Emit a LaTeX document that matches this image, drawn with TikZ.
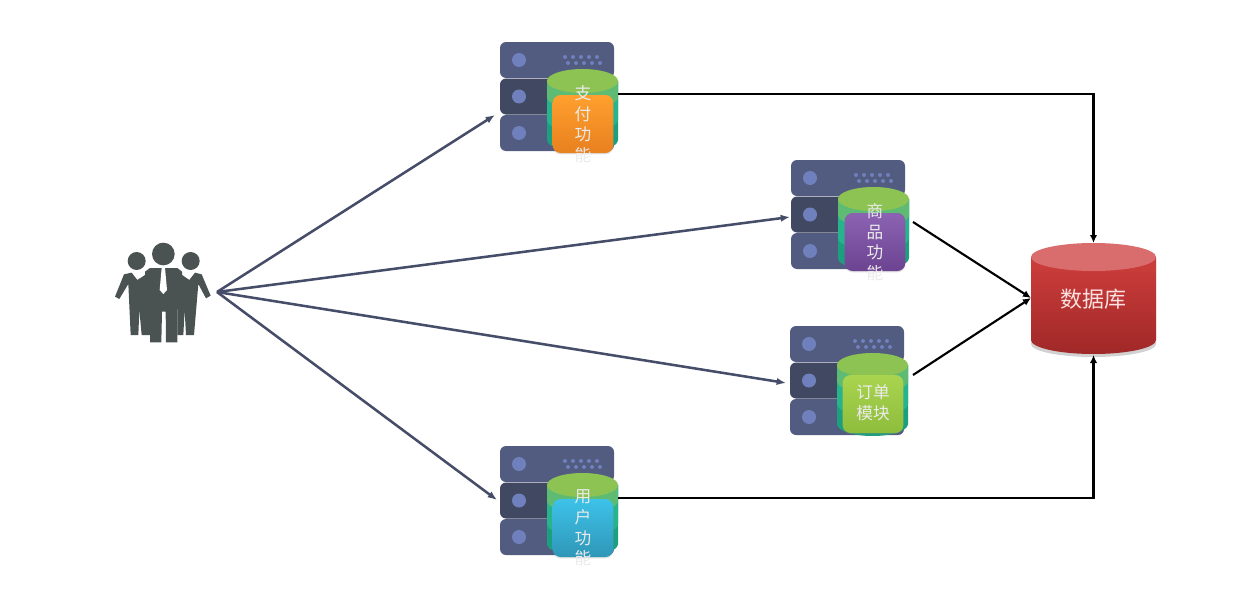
\documentclass[tikz,border=0pt]{standalone}
\usepackage{fontspec}
\newfontfamily\cjk{Noto Sans CJK SC}
\usepackage{xcolor}
\usepackage{tikz}
\usetikzlibrary{positioning,arrows.meta,shapes,calc,shadows}

\definecolor{slabc}{HTML}{525C80}
\definecolor{slabmid}{HTML}{414862}
\definecolor{ledc}{HTML}{6F80BD}
\definecolor{cyltop}{HTML}{8DC353}
\definecolor{bandA}{HTML}{5DBB74}
\definecolor{bandB}{HTML}{27B38B}
\definecolor{bandC}{HTML}{1C9F7E}
\definecolor{peoplec}{HTML}{4A5252}
\definecolor{userarr}{HTML}{454D68}
\definecolor{orangeT}{HTML}{FFA02E}
\definecolor{orangeB}{HTML}{E8801F}
\definecolor{purpleT}{HTML}{8C63B3}
\definecolor{purpleB}{HTML}{6C4391}
\definecolor{limeT}{HTML}{A9D44F}
\definecolor{limeB}{HTML}{8EBD3C}
\definecolor{blueT}{HTML}{3DC2E8}
\definecolor{blueB}{HTML}{2F97B8}

\begin{document}
\begin{tikzpicture}[
    x=0.75pt, y=-0.75pt,
    slab/.style     = {rectangle, rounded corners=4.5pt, fill=slabc, minimum width=85.5pt,
                       minimum height=27pt, inner sep=0pt},
    slabdark/.style = {slab, fill=slabmid},
    led/.style      = {circle, fill=ledc, minimum size=10.5pt, inner sep=0pt},
    func/.style     = {rectangle, rounded corners=6pt, minimum width=45.5pt,
                       minimum height=43.5pt, inner sep=0pt,
                       drop shadow={opacity=.25, shadow xshift=0pt, shadow yshift=-1pt}},
    label/.style    = {font=\cjk\fontsize{12.5}{15.5}\selectfont, color=black!8, align=center,
                       inner sep=0pt},
    dbnode/.style   = {rectangle, minimum width=93.75pt, minimum height=84pt, inner sep=0pt,
                       font=\cjk\fontsize{16.5}{20}\selectfont, color=white!88!red},
    userline/.style = {-{Latex[length=7pt,width=5.5pt]}, line width=1.9pt, draw=userarr},
    dbline/.style   = {-{Latex[length=6pt,width=5.5pt]}, line width=1.6pt, draw=black},
]
\useasboundingbox (0,0) rectangle (1254,589);

% servers with their function modules
\foreach \name/\sx/\sy/\bx/\by/\ty/\cola/\colb/\txt in {
    pay/500/42/83/82/82/orangeT/orangeB/{支\\付\\功\\能},
    goods/791/160/84/82/82/purpleT/purpleB/{商\\品\\功\\能},
    order/790/326/83/78/77/limeT/limeB/{订单\\模块},
    usr/500/446/83/82/82/blueT/blueB/{用\\户\\功\\能}} {
\begin{scope}[shift={(\sx,\sy)}]
  \node[slab]     (\name_top) at (57,18)  {};
  \node[slabdark] (\name_mid) at (57,54.5) {};
  \node[slab]     (\name_bot) at (57,91)  {};
  \node[led] (\name_ledA) at (19,18)  {};
  \node[led] (\name_ledB) at (19,54.5) {};
  \node[led] (\name_ledC) at (19,91)  {};
  % vent dots
  \foreach \i in {0,...,4} {
      \fill[ledc] (65+\i*8,15) circle[radius=2];
      \fill[ledc] (68+\i*8,21) circle[radius=2];
  }
  % cylinder bands, lowest first
  \fill[bandC] (47,39) -- (47,98) arc[start angle=180, end angle=0, x radius=35.5, y radius=12] -- (118,39) -- cycle;
  \fill[bandB] (47,39) -- (47,78) arc[start angle=180, end angle=0, x radius=35.5, y radius=12] -- (118,39) -- cycle;
  \fill[bandA] (47,39) -- (47,55) arc[start angle=180, end angle=0, x radius=35.5, y radius=12] -- (118,39) -- cycle;
  \fill[cyltop] (82.5,39) ellipse[x radius=35.5, y radius=12];
  \node[func, top color=\cola, bottom color=\colb] (\name_box) at (\bx,\by) {};
  \node[label] (\name_txt) at (\bx,\ty) {\txt};
\end{scope}
}

% database
\fill[black!30, opacity=.6] (1031,260) -- (1031,344) arc[start angle=180, end angle=0, x radius=62.5, y radius=13] -- (1156,260) -- cycle;
\shade[top color=red!58!black!95!white, bottom color=red!45!black!85!white,
       top color={rgb,255:red,205;green,62;blue,60}, bottom color={rgb,255:red,160;green,40;blue,40}]
    (1031,257) -- (1031,340) arc[start angle=180, end angle=0, x radius=62.5, y radius=14] -- (1156,257) -- cycle;
\fill[red!50!white!85!black] (1093.5,257) ellipse[x radius=62.5, y radius=14];
\node[dbnode] (db) at (1093.5,299) {数据库};
\coordinate (dbtop) at (1093.5,243);
\coordinate (dbbot) at (1093.5,355);
\coordinate (dbleft) at (1031,298);

% people
\begin{scope}[shift={(100,230)}, x=0.25pt, y=-0.25pt]
  \fill[peoplec] (110,93) circle[radius=27];
  \fill[peoplec] (272,93) circle[radius=27];
  \fill[peoplec] (190,72) circle[radius=34];
  \fill[peoplec] (72,133) -- (45,200) -- (58,207) -- (85,162) -- (92,315) -- (115,315)
      -- (118,240) -- (125,315) -- (150,315) -- (150,125) -- (112,150) -- (95,128) -- cycle;
  \fill[peoplec] (305,133) -- (332,197) -- (318,205) -- (295,162) -- (282,315) -- (258,315)
      -- (254,240) -- (250,315) -- (232,315) -- (232,125) -- (268,150) -- (285,128) -- cycle;
  \fill[peoplec] (150,114) -- (135,125) -- (135,200) -- (150,240) -- (150,337) -- (184,337)
      -- (186,245) -- (197,245) -- (198,337) -- (232,337) -- (232,240) -- (246,200)
      -- (246,125) -- (232,114) -- cycle;
  \fill[white] (185,114) -- (179,180) -- (190,192) -- (201,180) -- (195,114) -- cycle;
\end{scope}
\coordinate (people) at (217,292);

% end points of the connectors
\coordinate (payIn)    at (495,115);
\coordinate (goodsIn)  at (790,217);
\coordinate (orderIn)  at (786,383);
\coordinate (usrIn)    at (497,500);
\coordinate (payOut)   at (618,94);
\coordinate (goodsOut) at (913,222);
\coordinate (orderOut) at (913,375);
\coordinate (usrOut)   at (618,498);

\foreach \t in {payIn,goodsIn,orderIn,usrIn} {
    \draw[userline] (people) -- (\t);
}
\draw[dbline] (payOut) -| (dbtop);
\draw[dbline] (usrOut) -| (dbbot);
\draw[dbline] (goodsOut) -- (dbleft);
\draw[dbline] (orderOut) -- (dbleft);

\end{tikzpicture}
\end{document}
